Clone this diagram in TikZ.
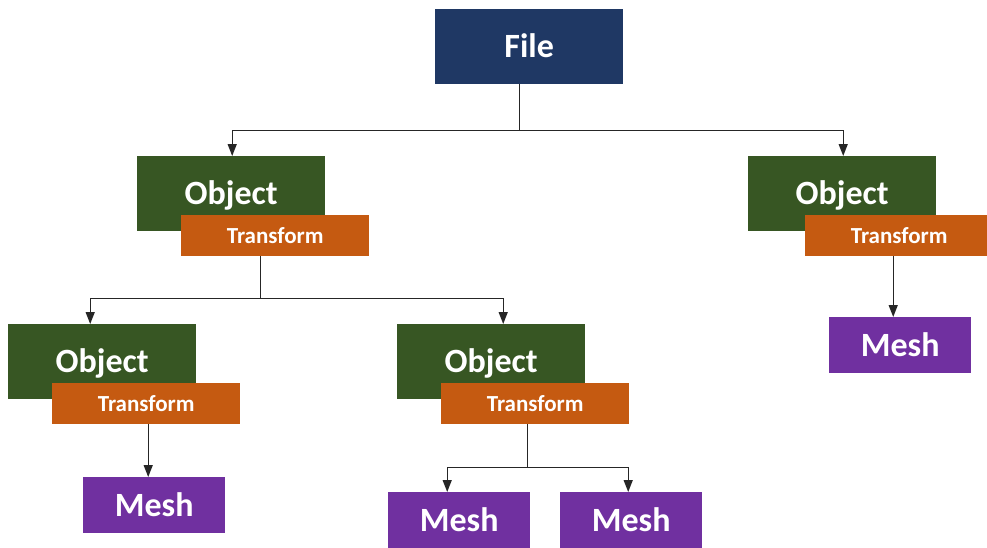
\documentclass[tikz,border=0pt]{standalone}
\usepackage{fontspec}
\setmainfont{Carlito}
\usetikzlibrary{arrows.meta}
\definecolor{navy}{HTML}{1F3864}
\definecolor{objgreen}{HTML}{375623}
\definecolor{xforange}{HTML}{C55A11}
\definecolor{meshpurple}{HTML}{7030A0}
\definecolor{linegray}{HTML}{262626}
\tikzset{
 box/.style={draw=none, inner sep=0pt, text=white, anchor=north west,
   font=\bfseries\fontsize{34}{40}\selectfont, text height=22pt, text depth=0pt},
 filebox/.style={box, fill=navy, minimum width=188pt, minimum height=75pt},
 objbox/.style={box, fill=objgreen, minimum width=188pt, minimum height=75pt},
 xfbox/.style={box, fill=xforange, minimum width=188pt, minimum height=41pt,
   font=\bfseries\fontsize{23}{27}\selectfont, text height=14.8pt},
 meshbox/.style={box, fill=meshpurple, minimum width=142pt, minimum height=56pt},
 conn/.style={draw=linegray, line width=1.4pt},
 arr/.style={conn, -{Triangle[length=12pt,width=9pt]}},
}
\begin{document}
\begin{tikzpicture}[x=1pt,y=-1pt]
\useasboundingbox[fill=white] (0,0) rectangle (987,547);
\node[filebox] (file) at (435,9) {File};
\node[objbox] (obj1) at (137,156) {Object};
\node[xfbox] (xf1) at (181,215) {Transform};
\node[objbox] (obj2) at (748,156) {Object};
\node[xfbox] (xf2) at (805,215) {Transform};
\node[objbox] (obj11) at (8,324) {Object};
\node[xfbox] (xf11) at (52,383) {Transform};
\node[objbox] (obj12) at (397,324) {Object};
\node[xfbox] (xf12) at (441,383) {Transform};
\node[meshbox] (mesh11) at (83,477) {Mesh};
\node[meshbox] (mesh2) at (829,317) {Mesh};
\node[meshbox] (mesh121) at (388,492) {Mesh};
\node[meshbox] (mesh122) at (560,492) {Mesh};
% connectors
\draw[conn] ([xshift=-10pt]file.south) -- ++(0,46) coordinate (j1);
\draw[arr] (j1) -| ([xshift=1pt]obj1.north);
\draw[arr] (j1) -| ([xshift=1pt]obj2.north);
\draw[conn] ([xshift=-15pt]xf1.south) -- ++(0,42) coordinate (j2);
\draw[arr] (j2) -| ([xshift=-12pt]obj11.north);
\draw[arr] (j2) -| ([xshift=12pt]obj12.north);
\draw[arr] ([xshift=2pt]xf11.south) -- ([xshift=-6pt]mesh11.north);
\draw[arr] ([xshift=-6pt]xf2.south) -- ([xshift=-7pt]mesh2.north);
\draw[conn] ([xshift=-8pt]xf12.south) -- ++(0,43) coordinate (j3);
\draw[arr] (j3) -| ([xshift=-12pt]mesh121.north);
\draw[arr] (j3) -| ([xshift=-3pt]mesh122.north);
\end{tikzpicture}
\end{document}
